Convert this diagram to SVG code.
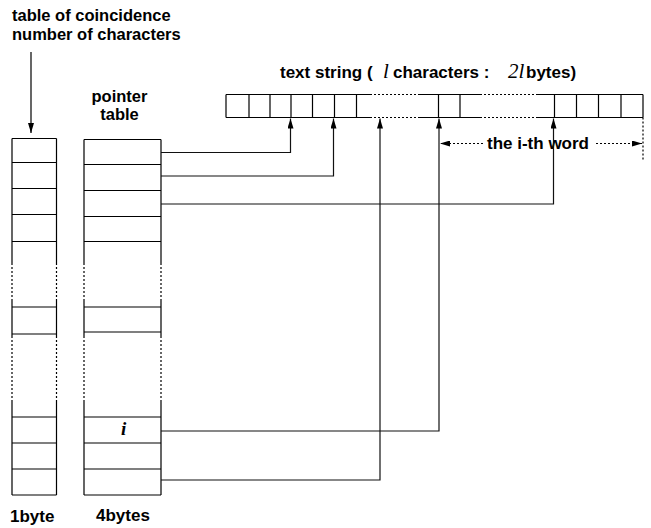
<svg xmlns="http://www.w3.org/2000/svg" width="651" height="528" viewBox="0 0 651 528">
  <defs>
    <marker id="arrow" viewBox="0 0 10 6" refX="10" refY="3" markerWidth="10" markerHeight="6" markerUnits="userSpaceOnUse" orient="auto">
      <path d="M0,0 L10,3 L0,6 Z" fill="#000"/>
    </marker>
  </defs>
  <style>
    .lbl { font-family: "Liberation Sans", Arial, sans-serif; font-weight: bold; font-size: 17px; fill: #000; }
    .two { font-size: 16.5px; }
    .var { font-family: "Liberation Serif", "Times New Roman", serif; font-style: italic; font-size: 21px; }
    .ln { stroke: #000; stroke-width: 1.2; fill: none; }
    .dot { stroke: #000; stroke-width: 1.2; fill: none; stroke-dasharray: 2 2; }
    .cn { stroke: #111; stroke-width: 1.2; fill: none; }
  </style>
  <rect width="651" height="528" fill="#fff"/>

  <!-- header label and arrow to the coincidence table -->
  <g id="header">
    <text class="lbl two" x="12" y="21">table of coincidence</text>
    <text class="lbl two" x="12" y="39.5">number of characters</text>
    <line class="ln" x1="31" y1="52" x2="31" y2="133" marker-end="url(#arrow)"/>
  </g>

  <!-- coincidence table (1 byte per entry) -->
  <g id="coincidence-table">
    <path class="ln" d="M12,138.5 H56.5 M12,162.5 H56.5 M12,188.5 H56.5 M12,214.5 H56.5 M12,241.5 H56.5 M12,307 H56.5 M12,334 H56.5 M12,417 H56.5 M12,443 H56.5 M12,469 H56.5 M12,495 H56.5"/>
    <path class="ln" d="M12,138.5 V263 M12,300 V336 M12,400 V495 M56.5,138.5 V263 M56.5,300 V336 M56.5,400 V495"/>
    <path class="dot" d="M12,263 V300 M12,336 V400 M56.5,263 V300 M56.5,336 V400"/>
    <text class="lbl" x="10" y="522">1byte</text>
  </g>

  <!-- pointer table (4 bytes per entry) -->
  <g id="pointer-table">
    <text class="lbl two" x="119.5" y="102" text-anchor="middle">pointer</text>
    <text class="lbl two" x="119.5" y="120" text-anchor="middle">table</text>
    <path class="ln" d="M84,139.5 H161 M84,164.5 H161 M84,190.5 H161 M84,216.5 H161 M84,241.5 H161 M84,307 H161 M84,332 H161 M84,417 H161 M84,443 H161 M84,469 H161 M84,495 H161"/>
    <path class="ln" d="M84,139.5 V263 M84,300 V336 M84,400 V495 M161,139.5 V263 M161,300 V336 M161,400 V495"/>
    <path class="dot" d="M84,263 V300 M84,336 V400 M161,263 V300 M161,336 V400"/>
    <text x="121" y="435" font-family="'Liberation Serif', 'Times New Roman', serif" font-style="italic" font-weight="bold" font-size="19">i</text>
    <text class="lbl" x="96" y="521">4bytes</text>
  </g>

  <!-- text string of l characters -->
  <g id="text-string">
    <text class="lbl" y="78"><tspan x="280">text string (</tspan><tspan class="var" x="383" font-weight="normal">l</tspan><tspan x="393">characters :</tspan><tspan class="var" x="508" font-weight="normal">2l</tspan><tspan x="526">bytes)</tspan></text>
    <path class="ln" d="M226,94.5 H370 M420,94.5 H480 M537,94.5 H643 M226,117.5 H370 M420,117.5 H480 M537,117.5 H643"/>
    <path class="dot" d="M370,94.5 H420 M480,94.5 H537 M370,117.5 H420 M480,117.5 H537"/>
    <path class="ln" d="M226,94.5 V117.5 M249,94.5 V117.5 M270,94.5 V117.5 M291,94.5 V117.5 M312.5,94.5 V117.5 M334.5,94.5 V117.5 M356.5,94.5 V117.5 M438.5,94.5 V117.5 M460,94.5 V117.5 M554.5,94.5 V117.5 M576.5,94.5 V117.5 M598.5,94.5 V117.5 M621,94.5 V117.5 M643,94.5 V117.5"/>
    <path class="dot" d="M643,117.5 V160"/>
  </g>

  <!-- extent of the i-th word -->
  <g id="word-span">
    <line class="dot" x1="483" y1="143.5" x2="440" y2="143.5" marker-end="url(#arrow)"/>
    <line class="dot" x1="596" y1="143.5" x2="642" y2="143.5" marker-end="url(#arrow)"/>
    <text class="lbl" x="487" y="149">the i-th word</text>
  </g>

  <!-- pointers from table entries into the string -->
  <g id="connectors">
    <polyline class="cn" points="161,152.5 290.5,152.5 290.5,118.5" marker-end="url(#arrow)"/>
    <polyline class="cn" points="161,176 333.5,176 333.5,118.5" marker-end="url(#arrow)"/>
    <polyline class="cn" points="161,204 553.5,204 553.5,118.5" marker-end="url(#arrow)"/>
    <polyline class="cn" points="161,431 439,431 439,118.5" marker-end="url(#arrow)"/>
    <polyline class="cn" points="161,480 380,480 380,118.5" marker-end="url(#arrow)"/>
  </g>
</svg>
